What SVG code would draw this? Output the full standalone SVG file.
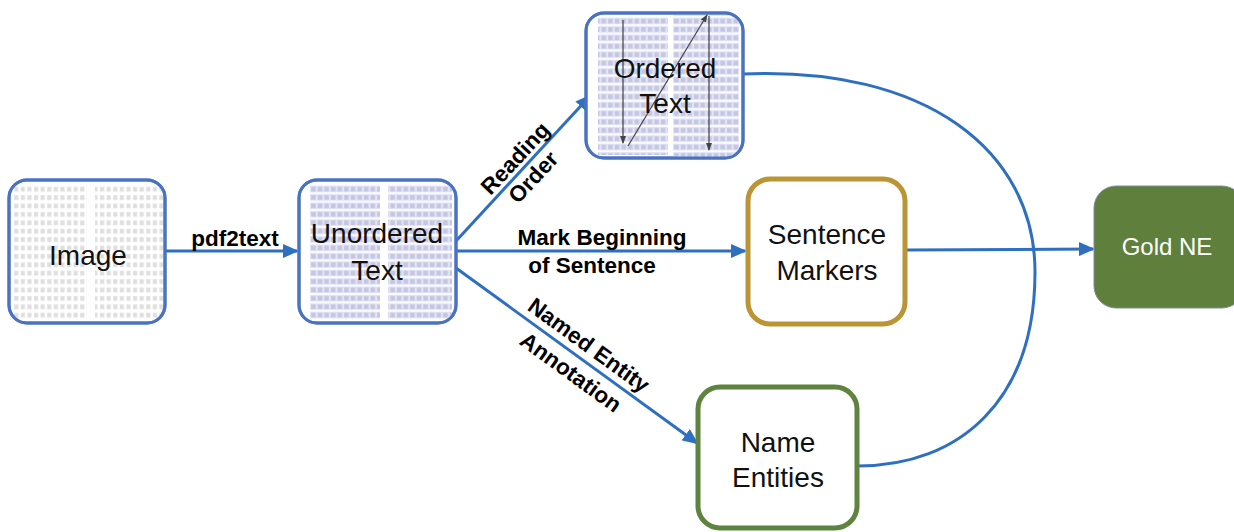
<svg xmlns="http://www.w3.org/2000/svg" width="1234" height="532" viewBox="0 0 1234 532">
<style>
.box{fill:#fff;stroke:#4a72c2;stroke-width:3}
.conn{fill:none;stroke:#2f6fc0;stroke-width:3}
.node{font-family:"Liberation Sans",Arial,sans-serif;font-size:28px;fill:#111;text-anchor:middle}
.lbl{font-family:"Liberation Sans",Arial,sans-serif;font-size:22.5px;font-weight:bold;fill:#000;text-anchor:middle}
.oarr{stroke:#444;stroke-width:1.2;fill:none}
</style>
<defs>
<marker id="ah" markerUnits="userSpaceOnUse" markerWidth="16" markerHeight="14" refX="14" refY="7" orient="auto">
<path d="M0,0 L16,7 L0,14 Z" fill="#2f6fc0"/>
</marker>
<marker id="sa" markerUnits="userSpaceOnUse" markerWidth="8" markerHeight="6" refX="7" refY="3" orient="auto">
<path d="M0,0 L8,3 L0,6 Z" fill="#444"/>
</marker>
<pattern id="chars" patternUnits="userSpaceOnUse" width="6.6" height="8.4">
<rect x="1" y="2" width="4.2" height="4.8" fill="#8a8a8a" opacity="0.28"/>
</pattern>
<pattern id="charsL" patternUnits="userSpaceOnUse" width="6.6" height="8.4">
<rect x="0" y="0.8" width="6.6" height="6.8" fill="#e1e3f8"/>
<rect x="1" y="2" width="4.4" height="4.6" fill="#9a9cb8" opacity="0.4"/>
</pattern>
<clipPath id="c1"><rect x="9" y="180" width="156" height="143" rx="18"/></clipPath>
<clipPath id="c2"><rect x="299" y="180" width="157" height="143" rx="18"/></clipPath>
<clipPath id="c3"><rect x="586" y="13" width="157" height="145" rx="18"/></clipPath>
</defs>

<g id="connectors">
<path class="conn" d="M165,251 L297,251" marker-end="url(#ah)"/>
<path class="conn" d="M456,241 L590,96" marker-end="url(#ah)"/>
<path class="conn" d="M456,251 L745,251" marker-end="url(#ah)"/>
<path class="conn" d="M456,268 L697,443" marker-end="url(#ah)"/>
<path class="conn" d="M906,250 L1093,249" marker-end="url(#ah)"/>
<path class="conn" d="M743,74 C925,66 1035,150 1035,272 C1035,400 960,466 858,466"/>
<text class="lbl" x="235" y="246">pdf2text</text>
<text class="lbl" x="602" y="245">Mark Beginning</text>
<text class="lbl" x="592" y="273">of Sentence</text>
<g transform="translate(515,158) rotate(-47)"><text class="lbl" x="0" y="8">Reading</text></g>
<g transform="translate(533,177) rotate(-47)"><text class="lbl" x="0" y="8">Order</text></g>
<g transform="translate(589,345) rotate(36)"><text class="lbl" x="0" y="8">Named Entity</text></g>
<g transform="translate(571,372) rotate(36)"><text class="lbl" x="0" y="8">Annotation</text></g>
</g>

<g id="node-image">
<rect class="box" x="9" y="180" width="156" height="143" rx="18"/>
<g clip-path="url(#c1)">
<rect x="14" y="184" width="73" height="136" fill="url(#chars)"/>
<rect x="95" y="184" width="68" height="136" fill="url(#chars)"/>
</g>
<rect x="9" y="180" width="156" height="143" rx="18" fill="none" stroke="#4a72c2" stroke-width="3"/>
<text class="node" x="88" y="265">Image</text>
</g>

<g id="node-unordered">
<rect class="box" x="299" y="180" width="157" height="143" rx="18"/>
<g clip-path="url(#c2)">
<rect x="310" y="184" width="70" height="136" fill="url(#charsL)"/>
<rect x="388" y="184" width="64" height="136" fill="url(#charsL)"/>
</g>
<rect x="299" y="180" width="157" height="143" rx="18" fill="none" stroke="#4a72c2" stroke-width="3"/>
<text class="node" x="377" y="243">Unordered</text>
<text class="node" x="377" y="280">Text</text>
</g>

<g id="node-ordered">
<rect class="box" x="586" y="13" width="157" height="145" rx="18"/>
<g clip-path="url(#c3)">
<rect x="598" y="17" width="70" height="138" fill="url(#charsL)"/>
<rect x="673" y="15" width="66" height="142" fill="url(#charsL)"/>
</g>
<rect x="586" y="13" width="157" height="145" rx="18" fill="none" stroke="#4a72c2" stroke-width="3"/>
<path class="oarr" d="M623,20 L623,143" marker-end="url(#sa)"/>
<path class="oarr" d="M628,146 L707,15" marker-end="url(#sa)"/>
<path class="oarr" d="M709,16 L709,150" marker-end="url(#sa)"/>
<text class="node" x="665" y="78">Ordered</text>
<text class="node" x="665" y="113">Text</text>
</g>

<g id="node-sentence">
<rect x="748" y="179" width="157" height="145" rx="22" fill="#fff" stroke="#bb9535" stroke-width="5"/>
<text class="node" x="827" y="244">Sentence</text>
<text class="node" x="827" y="280">Markers</text>
</g>

<g id="node-names">
<rect x="698" y="387" width="159" height="141" rx="22" fill="#fff" stroke="#5e843f" stroke-width="5"/>
<text class="node" x="778" y="452">Name</text>
<text class="node" x="778" y="487">Entities</text>
</g>

<g id="node-gold">
<rect x="1094" y="186" width="150" height="122" rx="22" fill="#5f7f3d" stroke="#7d8f9a" stroke-width="1"/>
<text class="node" x="1167" y="255" style="font-size:24px;fill:#fff">Gold NE</text>
</g>
</svg>
